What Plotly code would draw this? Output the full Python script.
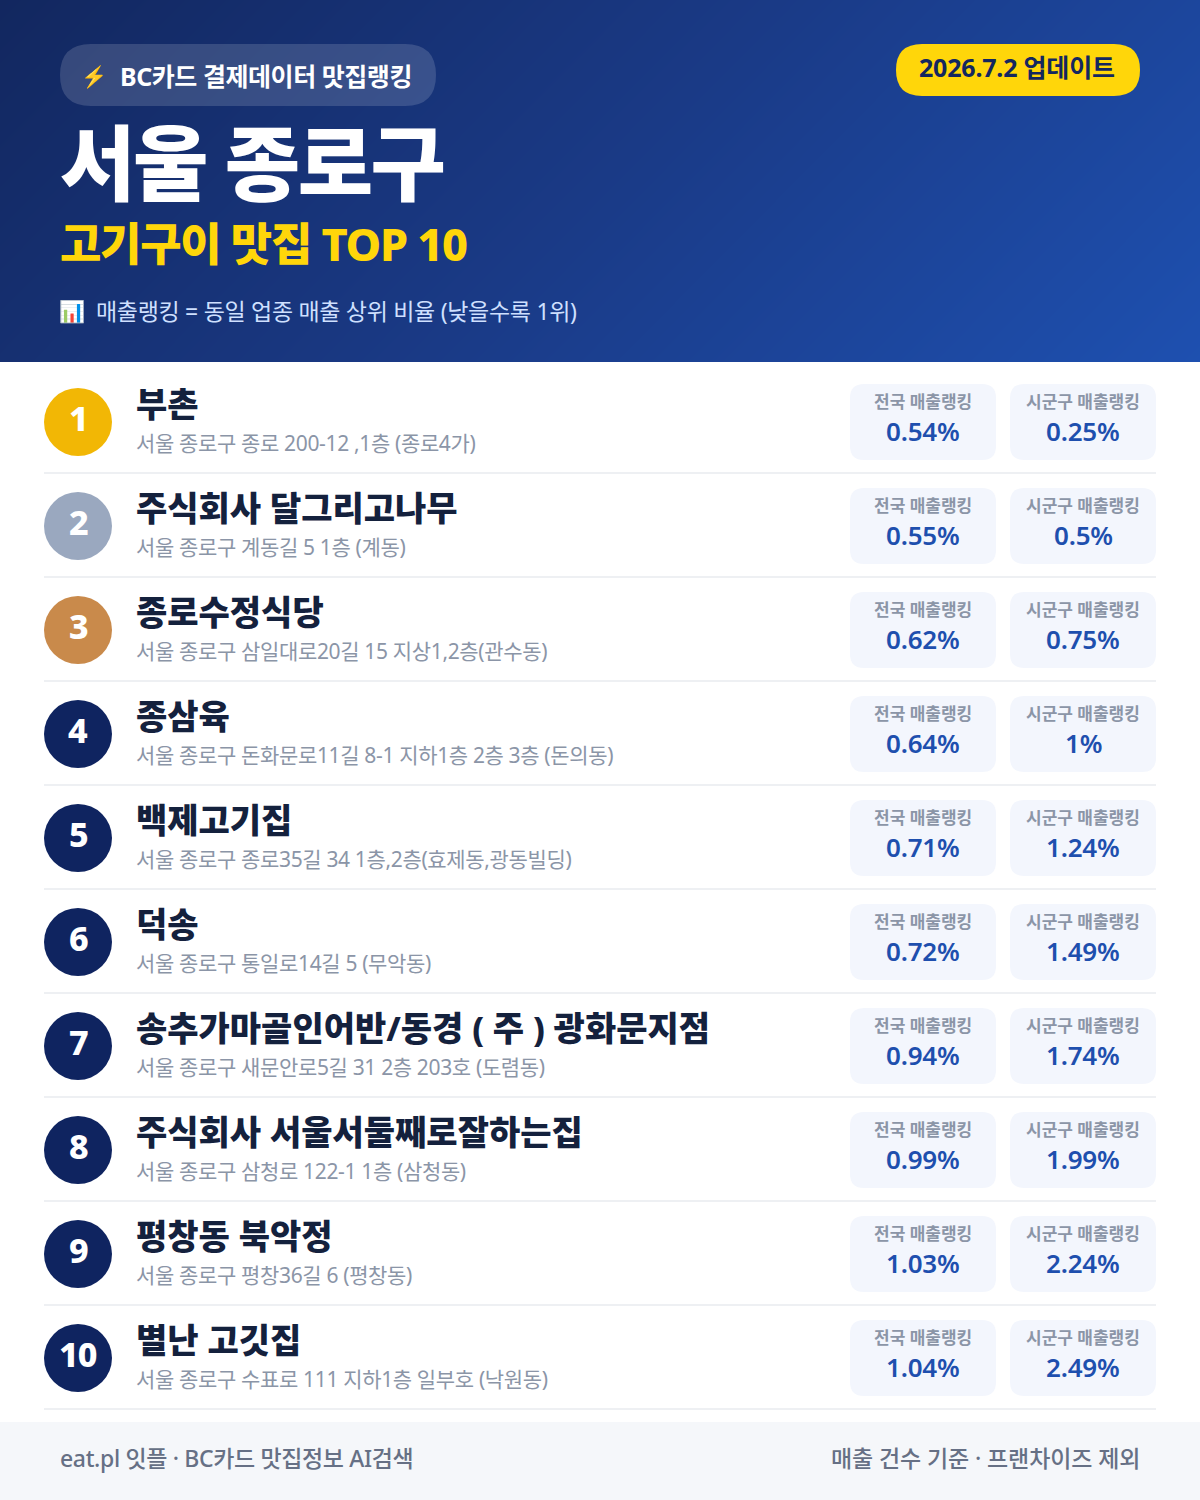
import plotly.graph_objects as go

ranks = list(range(1, 11))
names = ["부촌", "주식회사 달그리고나무", "종로수정식당", "종삼육", "백제고기집", "덕송",
         "송추가마골인어반/동경 ( 주 ) 광화문지점", "주식회사 서울서둘째로잘하는집", "평창동 북악정", "별난 고깃집"]
addresses = ["서울 종로구 종로 200-12 ,1층 (종로4가)", "서울 종로구 계동길 5 1층 (계동)",
             "서울 종로구 삼일대로20길 15 지상1,2층(관수동)", "서울 종로구 돈화문로11길 8-1 지하1층 2층 3층 (돈의동)",
             "서울 종로구 종로35길 34 1층,2층(효제동,광동빌딩)", "서울 종로구 통일로14길 5 (무악동)",
             "서울 종로구 새문안로5길 31 2층 203호 (도렴동)", "서울 종로구 삼청로 122-1 1층 (삼청동)",
             "서울 종로구 평창36길 6 (평창동)", "서울 종로구 수표로 111 지하1층 일부호 (낙원동)"]
national = [0.54, 0.55, 0.62, 0.64, 0.71, 0.72, 0.94, 0.99, 1.03, 1.04]
district = [0.25, 0.5, 0.75, 1, 1.24, 1.49, 1.74, 1.99, 2.24, 2.49]
badge_colors = ["#F2B705", "#9AA8BF", "#C98A4B"] + ["#0F2460"] * 7

FONT = "Noto Sans, Noto Sans CJK KR"
W, H = 1200, 1500
HEAD = 362
ROW0, PITCH = 422, 104


def rr(x0, y0, x1, y1, r):
    return (f"M{x0+r},{y0} L{x1-r},{y0} Q{x1},{y0} {x1},{y0+r} L{x1},{y1-r} Q{x1},{y1} {x1-r},{y1} "
            f"L{x0+r},{y1} Q{x0},{y1} {x0},{y1-r} L{x0},{y0+r} Q{x0},{y0} {x0+r},{y0} Z")


shapes, ann = [], []


def rect(x0, y0, x1, y1, c):
    shapes.append(dict(type="rect", x0=x0, y0=y0, x1=x1, y1=y1, fillcolor=c, line_width=0, layer="above"))


def round_rect(x0, y0, x1, y1, r, c):
    shapes.append(dict(type="path", path=rr(x0, y0, x1, y1, r), fillcolor=c, line_width=0, layer="above"))


def text(x, y, s, size, color, weight=400, anchor="left", ls=0):
    if ls:
        s = f'<span style="letter-spacing:{ls}px">{s}</span>'
    ann.append(dict(x=x, y=y, text=s, showarrow=False, xanchor=anchor, yanchor="middle", xref="x", yref="y",
                    align=anchor, borderpad=0, borderwidth=0,
                    font=dict(family=FONT, size=size, color=color, weight=weight)))


# page body + footer
rect(0, HEAD, W, H, "#FFFFFF")
rect(0, 1422, W, H, "#F5F7FA")

# header
round_rect(60, 44, 436, 106, 31, "rgba(255,255,255,0.15)")
round_rect(896, 44, 1140, 96, 26, "#FFD60A")
text(81, 76, "⚡", 21, "#FFC83D")
text(120, 76, "BC카드 결제데이터 맛집랭킹", 25, "#FFFFFF", 700, ls=-0.45)
text(1017, 67, "2026.7.2 업데이트", 25, "#14275F", 700, "center", ls=-0.2)
text(60, 162, "서울 종로구", 82, "#FFFFFF", 800, ls=-2.5)
text(60, 243, "고기구이 맛집 TOP 10", 45, "#FFD60A", 800, ls=-1.3)
text(59, 311, "📊", 21, "#FFFFFF")
text(96, 311, "매출랭킹 = 동일 업종 매출 상위 비율 (낮을수록 1위)", 23, "#CFE0FF", 400, ls=-0.3)

# rows
for i, r in enumerate(ranks):
    c = ROW0 + i * PITCH
    shapes.append(dict(type="circle", x0=44, x1=112, y0=c - 34, y1=c + 34, fillcolor=badge_colors[i],
                       line_width=0, layer="above"))
    text(78, c - 4, str(r), 34, "#FFFFFF", 800, "center", ls=-1)
    text(136, c - 18, names[i], 34, "#14213D", 800)
    text(136, c + 21, addresses[i], 21, "#8B95A7", 400, ls=-0.35)
    rect(44, c + 50, 1156, c + 52, "#EEF0F3")
    for x0, label, val in ((850, "전국 매출랭킹", national[i]), (1010, "시군구 매출랭킹", district[i])):
        round_rect(x0, c - 38, x0 + 146, c + 38, 14, "#F3F6FD")
        text(x0 + 73, c - 21, label, 17, "#8B95A7", 600, "center")
        text(x0 + 73, c + 9, f"{val:g}%", 26, "#1E4FAE", 600, "center", ls=-0.2)

# footer
text(60, 1458, "eat.pl 잇플 · BC카드 맛집정보 AI검색", 23, "#667085", 500, ls=-0.35)
text(1140, 1458, "매출 건수 기준 · 프랜차이즈 제외", 23, "#667085", 500, "right", ls=-0.1)

grad_x = [0, W]
grad_y = [0, HEAD]
grad_z = [[0, 0.77], [0.23, 1]]

fig = go.Figure(go.Heatmap(x=grad_x, y=grad_y, z=grad_z, zsmooth="best", showscale=False, hoverinfo="skip",
                           zmin=0, zmax=1,
                           colorscale=[[0, "#12275F"], [0.5, "#1A3A86"], [1, "#1E50B0"]]))
fig.update_layout(width=W, height=H, margin=dict(l=0, r=0, t=0, b=0), paper_bgcolor="#FFFFFF", plot_bgcolor="#FFFFFF",
                  xaxis=dict(range=[0, W], visible=False, fixedrange=True),
                  yaxis=dict(range=[H, 0], visible=False, fixedrange=True),
                  shapes=shapes, annotations=ann, showlegend=False)
fig.write_html("out.html", config=dict(displayModeBar=False),
               post_script="document.body.style.margin='0';document.body.style.overflow='hidden';")
